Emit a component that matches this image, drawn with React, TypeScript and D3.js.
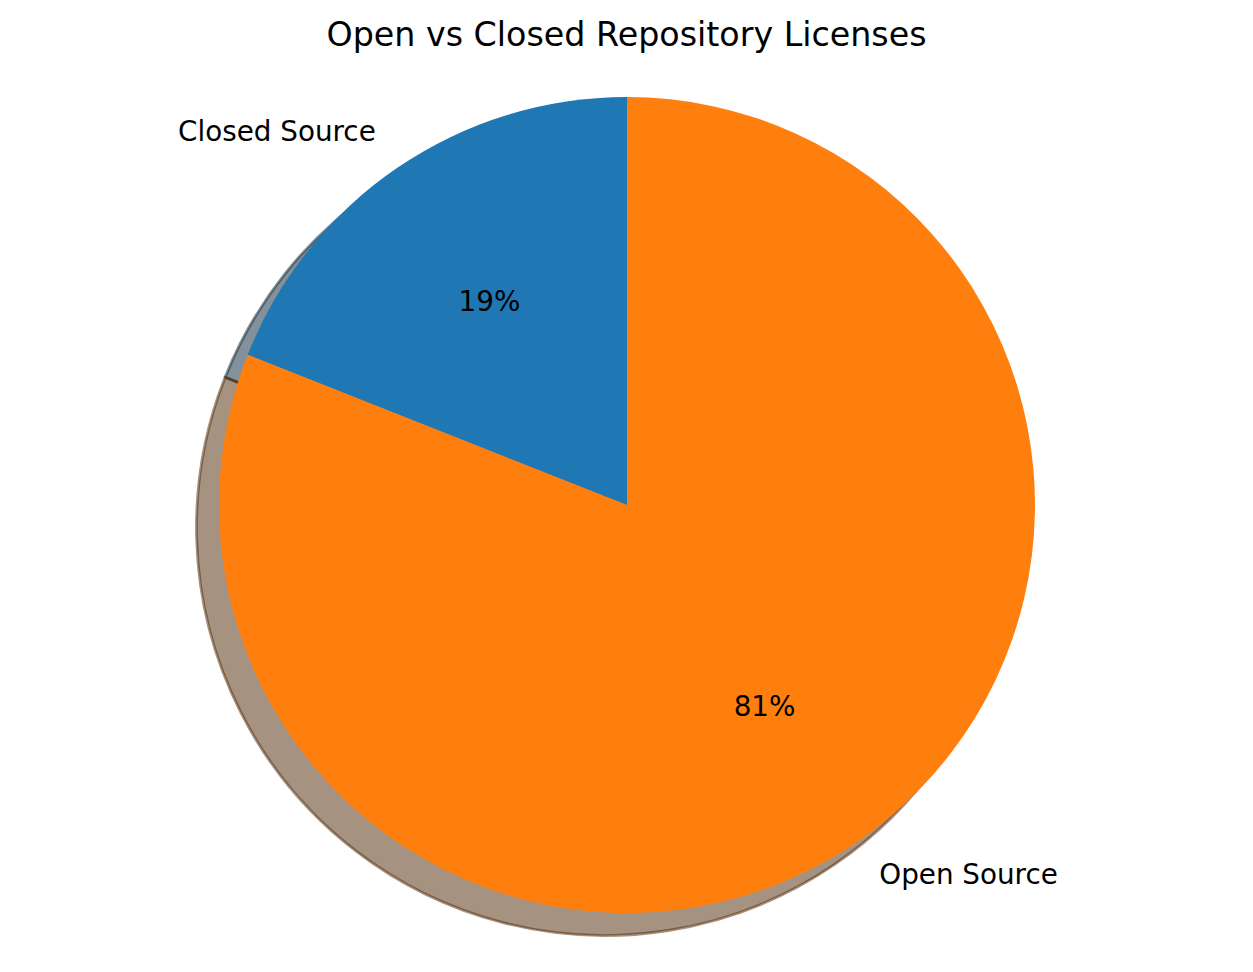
import React from "react";
import * as d3 from "d3";

const labels = ["Closed Source", "Open Source"];
const values = [19, 81];
const colors = ["#1f77b4", "#ff7f0e"];
const title = "Open vs Closed Repository Licenses";

const W = 1253, H = 972;
const cx = 627, cy = 505, R = 408;
const shadowOff = 22.5;

export default function App() {
  // matplotlib: startangle 90, counterclockwise -> d3 goes from 0 to -2PI
  const pie = d3.pie<number>().sort(null).startAngle(0).endAngle(-2 * Math.PI);
  const arcs = pie(values);
  const arc = d3.arc<d3.PieArcDatum<number>>().innerRadius(0).outerRadius(R);
  const labelArc = d3.arc<d3.PieArcDatum<number>>().innerRadius(R * 1.1).outerRadius(R * 1.1);
  const pctArc = d3.arc<d3.PieArcDatum<number>>().innerRadius(R * 0.6).outerRadius(R * 0.6);
  const total = d3.sum(values);

  const shade = (c: string) => {
    const rgb = d3.rgb(c);
    return d3.rgb(rgb.r * 0.3, rgb.g * 0.3, rgb.b * 0.3).formatHex();
  };

  return (
    <div style={{ position: "absolute", left: 0, top: 0 }}>
      <svg width={W} height={H} style={{ display: "block", background: "#fff" }}
        fontFamily="DejaVu Sans, sans-serif">
        <text x={626.5} y={46} textAnchor="middle" fontSize={33.3} fill="#000">{title}</text>
        {/* shadows behind wedges */}
        <g transform={`translate(${cx - shadowOff},${cy + shadowOff})`}>
          {arcs.map((a, i) => (
            <path key={i} d={arc(a) || ""} fill={shade(colors[i])} fillOpacity={0.5}
              stroke={shade(colors[i])} strokeOpacity={0.5} strokeWidth={2.8} />
          ))}
        </g>
        <g transform={`translate(${cx},${cy})`}>
          {arcs.map((a, i) => (
            <path key={i} d={arc(a) || ""} fill={colors[i]} />
          ))}
          {arcs.map((a, i) => {
            const [x, y] = labelArc.centroid(a);
            return (
              <text key={"l" + i} x={x + (x < 0 ? 1 : 0)} y={y} dy="0.27em" fontSize={27.8}
                textAnchor={x < 0 ? "end" : "start"} fill="#000">{labels[i]}</text>
            );
          })}
          {arcs.map((a, i) => {
            const [x, y] = pctArc.centroid(a);
            return (
              <text key={"p" + i} x={x} y={y} dy="0.3em" fontSize={27.8}
                textAnchor="middle" fill="#000">{Math.round((a.data / total) * 100)}%</text>
            );
          })}
        </g>
      </svg>
    </div>
  );
}
